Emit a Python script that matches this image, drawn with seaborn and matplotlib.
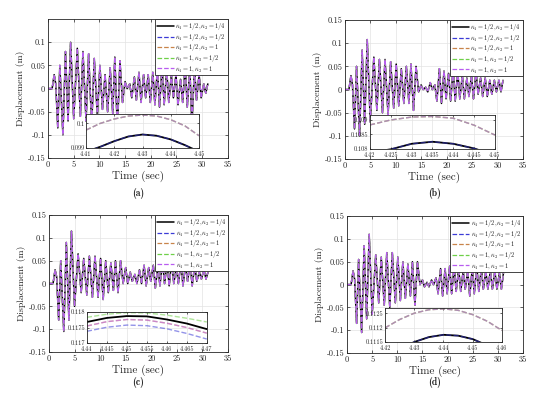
import matplotlib
matplotlib.use("Agg")
import matplotlib.pyplot as plt
import seaborn as sns

# extremum times (s) shared by the four records
time_s = [0.0, 0.8, 1.2, 1.5, 1.9, 2.3, 2.9, 3.4, 3.9, 4.4, 5.0, 5.7, 6.3, 6.8,
          7.4, 7.9, 8.5, 9.0, 9.6, 10.1, 10.6, 11.1, 11.6, 12.1, 12.6, 13.0,
          13.5, 14.0, 14.5, 15.0, 15.4, 15.9, 16.3, 16.8, 17.2, 17.7, 18.1,
          18.6, 19.0, 19.5, 19.9, 20.4, 20.8, 21.3, 21.7, 22.2, 22.6, 23.1,
          23.5, 24.0, 24.4, 24.9, 25.3, 25.8, 26.2, 26.7, 27.1, 27.6, 28.0,
          28.5, 28.9, 29.4, 29.8, 30.3, 30.7, 31.1]

disp_a = [0, 0, 0.03, 0.01, -0.085, 0.05, -0.1, 0.08, -0.07, 0.1, -0.065, 0.087,
          -0.06, 0.08, -0.07, 0.075, -0.08, 0.065, -0.06, 0.05, -0.045, 0.03,
          -0.05, 0.045, -0.055, 0.068, -0.09, 0.06, -0.03, 0.015, 0.0, 0.01,
          -0.02, 0.025, -0.025, 0.035, -0.03, 0.03, -0.02, 0.03, -0.03, 0.035,
          -0.035, 0.045, -0.04, 0.05, -0.035, 0.04, -0.03, 0.03, -0.02, 0.03,
          -0.035, 0.02, -0.03, 0.05, -0.04, 0.045, -0.08, 0.045, -0.025, 0.03,
          -0.02, 0.01, -0.01, 0.01]
disp_b = [0, 0, 0.03, 0.01, -0.085, 0.05, -0.1, 0.085, -0.075, 0.108, -0.07,
          0.07, -0.045, 0.065, -0.05, 0.065, -0.055, 0.06, -0.04, 0.055, -0.035,
          0.045, -0.03, 0.05, -0.03, 0.055, -0.045, 0.05, -0.005, 0.01, 0.0,
          0.005, -0.005, 0.015, 0.0, 0.01, -0.025, 0.045, -0.03, 0.04, -0.02,
          0.035, -0.025, 0.045, -0.025, 0.04, -0.02, 0.03, -0.02, 0.025, -0.015,
          0.03, -0.02, 0.04, -0.01, 0.025, -0.015, 0.025, -0.015, 0.02, -0.01,
          0.02, -0.005, 0.02, -0.005, 0.02]
disp_c = [0, 0, 0.03, 0.015, -0.08, 0.05, -0.105, 0.09, -0.08, 0.115, -0.05,
          0.065, -0.02, 0.055, -0.025, 0.06, -0.03, 0.06, -0.03, 0.055, -0.035,
          0.05, -0.02, 0.045, -0.015, 0.05, -0.02, 0.05, 0.0, 0.035, 0.0, 0.025,
          0.005, 0.02, 0.0, 0.03, 0.0, 0.04, -0.005, 0.035, 0.005, 0.04, -0.01,
          0.04, -0.005, 0.05, 0.0, 0.045, -0.005, 0.05, 0.0, 0.035, 0.0, 0.045,
          -0.005, 0.04, 0.005, 0.045, -0.005, 0.04, 0.005, 0.025, 0.01, 0.03,
          0.01, 0.025]
disp_d = [0, 0, 0.03, 0.012, -0.085, 0.055, -0.105, 0.085, -0.075, 0.11, -0.065,
          0.065, -0.04, 0.06, -0.045, 0.07, -0.05, 0.07, -0.04, 0.06, -0.035,
          0.05, -0.03, 0.045, -0.025, 0.05, -0.045, 0.05, 0.0, 0.01, -0.005,
          0.005, -0.005, 0.01, 0.0, 0.015, -0.02, 0.035, -0.025, 0.035, -0.02,
          0.04, -0.02, 0.04, -0.015, 0.035, -0.015, 0.03, -0.01, 0.03, -0.025,
          0.035, -0.02, 0.04, -0.015, 0.035, -0.01, 0.03, -0.01, 0.03, -0.01,
          0.03, -0.01, 0.025, -0.01, 0.025]

cases = [r'$\kappa_1 = 1/2, \kappa_2 = 1/4$', r'$\kappa_1 = 1/2, \kappa_2 = 1/2$',
         r'$\kappa_1 = 1/2, \kappa_2 = 1$', r'$\kappa_1 = 1, \kappa_2 = 1/2$',
         r'$\kappa_1 = 1, \kappa_2 = 1$']
case_colors = ['#000000', '#3b3bd6', '#c8844a', '#6fd048', '#b85cf0']
case_styles = ['-', '--', '--', '--', '--']

main_xticks = [0, 5, 10, 15, 20, 25, 30, 35]
main_yticks = [-0.15, -0.1, -0.05, 0, 0.05, 0.1, 0.15]
main_ylabels = ['-0.15', '-0.1', '-0.05', '0', '0.05', '0.1', '0.15']

# zoom near the largest peak
ins_a_t = [4.41, 4.415, 4.42, 4.425, 4.43, 4.435, 4.44, 4.445, 4.45]
ins_a_up = [0.09973, 0.10000, 0.10018, 0.10030, 0.10034, 0.10030, 0.10015, 0.09990, 0.09950]
ins_a_lo = [0.09885, 0.09905, 0.09928, 0.09947, 0.09955, 0.09950, 0.09935, 0.09912, 0.09885]

ins_b_t = [4.42, 4.425, 4.43, 4.435, 4.44, 4.445, 4.45]
ins_b_up = [0.10883, 0.10900, 0.10910, 0.10912, 0.10906, 0.10882, 0.10848]
ins_b_lo = [0.10788, 0.10799, 0.10818, 0.10825, 0.10818, 0.10802, 0.10778]

ins_c_t = [4.44, 4.445, 4.45, 4.455, 4.46, 4.465, 4.47]
ins_c_green = [0.11783, 0.11793, 0.11798, 0.11797, 0.11790, 0.11780, 0.11768]
ins_c_black = [0.11768, 0.11781, 0.11787, 0.11786, 0.11776, 0.11763, 0.11745]
ins_c_mid = [0.11755, 0.11769, 0.11776, 0.11774, 0.11764, 0.11750, 0.11732]
ins_c_blue = [0.11738, 0.11751, 0.11758, 0.11756, 0.11746, 0.11731, 0.11713]

ins_d_t = [4.42, 4.425, 4.43, 4.435, 4.44, 4.445, 4.45, 4.455, 4.46]
ins_d_up = [0.11199, 0.11228, 0.11250, 0.11262, 0.11265, 0.11260, 0.11245, 0.11222, 0.11190]
ins_d_lo = [0.11095, 0.11125, 0.11150, 0.11167, 0.11175, 0.11172, 0.11160, 0.11138, 0.11108]

panels = [
    dict(tag='(a)', disp=disp_a, main=[0.0873, 0.603, 0.327, 0.349], ylab_top=False,
         ins=[0.1564, 0.628, 0.2055, 0.0854], ins_t=ins_a_t,
         ins_v=[ins_a_lo, ins_a_lo, ins_a_up, ins_a_up, ins_a_up],
         ins_xt=['4.41', '4.42', '4.43', '4.44', '4.45'], ins_yt=['0.099', '0.1'],
         ins_ylim=(0.099, 0.10038), label_xy=(0.251, 0.515)),
    dict(tag='(b)', disp=disp_b, main=[0.627, 0.6005, 0.3236, 0.349], ylab_top=True,
         ins=[0.6727, 0.6256, 0.2273, 0.0854], ins_t=ins_b_t,
         ins_v=[ins_b_lo, ins_b_lo, ins_b_up, ins_b_up, ins_b_up],
         ins_xt=['4.42', '4.425', '4.43', '4.435', '4.44', '4.445', '4.45'],
         ins_yt=['0.108', '0.1085', '0.109'],
         ins_ylim=(0.108, 0.10917), label_xy=(0.791, 0.515)),
    dict(tag='(c)', disp=disp_c, main=[0.089, 0.1156, 0.3255, 0.344], ylab_top=True,
         ins=[0.158, 0.138, 0.218, 0.078], ins_t=ins_c_t,
         ins_v=[ins_c_black, ins_c_blue, ins_c_mid, ins_c_green, ins_c_mid],
         ins_xt=['4.44', '4.445', '4.45', '4.455', '4.46', '4.465', '4.47'],
         ins_yt=['0.117', '0.1175', '0.118'],
         ins_ylim=(0.117, 0.118), label_xy=(0.251, 0.038)),
    dict(tag='(d)', disp=disp_d, main=[0.631, 0.113, 0.32, 0.344], ylab_top=True,
         ins=[0.70, 0.1407, 0.2127, 0.0854], ins_t=ins_d_t,
         ins_v=[ins_d_lo, ins_d_lo, ins_d_up, ins_d_up, ins_d_up],
         ins_xt=['4.42', '4.43', '4.44', '4.45', '4.46'],
         ins_yt=['0.1115', '0.112', '0.1125'],
         ins_ylim=(0.1115, 0.11268), label_xy=(0.791, 0.038)),
]

sns.set_theme(style="whitegrid")
plt.rcParams['font.family'] = ['cmr10', 'DejaVu Serif']
plt.rcParams['mathtext.fontset'] = 'cm'
plt.rcParams['axes.unicode_minus'] = False

GRID = '#e3e3e3'
EDGE = '#262626'


def style_axes(ax, fs):
    ax.set_facecolor('white')
    ax.grid(True, color=GRID, lw=0.5)
    for s in ax.spines.values():
        s.set_color(EDGE)
        s.set_linewidth(0.6)
    ax.tick_params(direction='in', length=2, width=0.5, labelsize=fs, pad=2,
                   colors=EDGE, top=True, right=True, bottom=True, left=True,
                   labeltop=False, labelright=False)


fig = plt.figure(figsize=(5.5, 3.98), dpi=100)

for p in panels:
    ax = fig.add_axes(p['main'])
    for name, col, ls in zip(cases, case_colors, case_styles):
        sns.lineplot(x=time_s, y=p['disp'], ax=ax, color=col, linestyle=ls,
                     lw=1.1 if ls == '-' else 0.9, estimator=None, sort=False,
                     label=name)
    ax.set_xlim(0, 35)
    ax.set_ylim(-0.15, 0.15)
    ax.set_xticks(main_xticks)
    ax.set_xticklabels([str(v) for v in main_xticks])
    if p['ylab_top']:
        ax.set_yticks(main_yticks)
        ax.set_yticklabels(main_ylabels)
    else:
        ax.set_yticks(main_yticks[:-1])
        ax.set_yticklabels(main_ylabels[:-1])
    style_axes(ax, 6)
    ax.set_xlabel('Time (sec)', fontsize=8, labelpad=1)
    ax.set_ylabel('Displacement (m)', fontsize=7, labelpad=2)
    leg = ax.legend(loc='upper right', fontsize=4.6, frameon=True, fancybox=False,
                    framealpha=1, edgecolor=EDGE, borderaxespad=0, borderpad=0.25,
                    labelspacing=-0.02, handlelength=2.7, handletextpad=0.2,
                    handleheight=0.5)
    leg.get_frame().set_linewidth(0.6)
    leg.get_frame().set_facecolor('white')

    ins = fig.add_axes(p['ins'])
    for vals, col, ls in zip(p['ins_v'], case_colors, case_styles):
        sns.lineplot(x=p['ins_t'], y=vals, ax=ins, color=col, linestyle=ls,
                     lw=1.3 if ls == '-' else 1.0, estimator=None, sort=False,
                     legend=False, alpha=1 if ls == '-' else 0.55)
    xt = [float(v) for v in p['ins_xt']]
    yt = [float(v) for v in p['ins_yt']]
    ins.set_xlim(xt[0], xt[-1])
    ins.set_ylim(*p['ins_ylim'])
    ins.set_xticks(xt)
    ins.set_xticklabels(p['ins_xt'])
    ins.set_yticks(yt)
    ins.set_yticklabels(p['ins_yt'])
    style_axes(ins, 4.5)
    ins.tick_params(axis='y', pad=1, length=1.5)
    ins.tick_params(axis='x', pad=2.6, length=1.5)

    fig.text(p['label_xy'][0], p['label_xy'][1], p['tag'], family='cmb10',
             fontsize=7, ha='center', va='center')

fig.savefig('out.png', dpi=100)
